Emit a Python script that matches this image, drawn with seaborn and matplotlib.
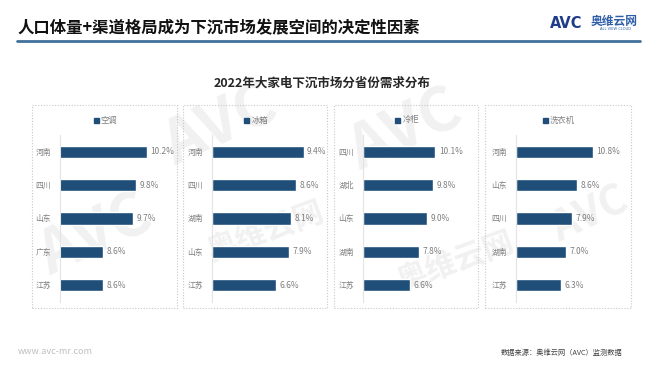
import matplotlib
matplotlib.use("Agg")
import matplotlib.pyplot as plt
import seaborn as sns
import pandas as pd
from matplotlib.patches import Rectangle
from matplotlib.lines import Line2D

sns.set_theme(style="white")
plt.rcParams['font.family'] = ['Noto Sans CJK SC', 'DejaVu Sans']

# ---------------- data ----------------
main_title = "人口体量+渠道格局成为下沉市场发展空间的决定性因素"
chart_title = "2022年大家电下沉市场分省份需求分布"
source_text = "数据来源：奥维云网（AVC）监测数据"
site_text = "www.avc-mr.com"

ac_name = "空调"
ac_provinces = ["河南", "四川", "山东", "广东", "江苏"]
ac_values = [10.2, 9.8, 9.7, 8.6, 8.6]

fridge_name = "冰箱"
fridge_provinces = ["河南", "四川", "湖南", "山东", "江苏"]
fridge_values = [9.4, 8.6, 8.1, 7.9, 6.6]

freezer_name = "冷柜"
freezer_provinces = ["四川", "湖北", "山东", "湖南", "江苏"]
freezer_values = [10.1, 9.8, 9.0, 7.8, 6.6]

washer_name = "洗衣机"
washer_provinces = ["河南", "山东", "四川", "湖南", "江苏"]
washer_values = [10.8, 8.6, 7.9, 7.0, 6.3]

# ---------------- layout ----------------
W, H = 660, 372
BAR = "#1F4E79"
GRAY = "#7F7F7F"

fig = plt.figure(figsize=(W / 100, H / 100), dpi=100)
fig.patch.set_facecolor("white")

def fx(px):
    return px / W

def fy(py):
    return 1 - py / H

# background axis for faint watermarks
bg = fig.add_axes([0, 0, 1, 1], zorder=-5)
bg.set_xlim(0, W)
bg.set_ylim(H, 0)
bg.axis("off")
wm_color = "#F1F1F1"
for (x, y, s, fs, rot) in [(220, 125, "AVC", 44, 25), (405, 130, "AVC", 44, 25),
                           (265, 232, "奥维云网", 22, 20), (455, 262, "奥维云网", 22, 20),
                           (95, 235, "AVC", 44, 25), (590, 215, "AVC", 30, 25)]:
    bg.text(x, y, s, fontsize=fs, fontweight="bold", color=wm_color,
            rotation=rot, ha="center", va="center")

# header
fig.text(fx(18), fy(28), main_title, fontsize=11.8, fontweight="bold",
         color="#111111", ha="left", va="center")
fig.add_artist(Line2D([fx(17), fx(640)], [fy(41), fy(41)], color="#41719C", lw=2))
fig.text(fx(550), fy(23), "AVC", fontsize=10.5, fontweight="bold", color="#1F3C88",
         ha="left", va="center", family=["DejaVu Sans"])
fig.text(fx(591), fy(21.5), "奥维云网", fontsize=8.5, fontweight="bold", color="#2E5EA8",
         ha="left", va="center")
fig.text(fx(616), fy(29.5), "ALL VIEW CLOUD", fontsize=2.6, color="#2E5EA8",
         ha="center", va="center", family=["DejaVu Sans"])

fig.text(fx(322), fy(83), chart_title, fontsize=9, fontweight="bold",
         color="#262626", ha="center", va="center")

# footer
fig.text(fx(18), fy(352), site_text, fontsize=6.5, color="#BFBFBF", ha="left", va="center")
fig.text(fx(622), fy(353), source_text, fontsize=5.2, color="#404040", ha="right", va="center")

panels = [
    (ac_name, ac_provinces, ac_values, (32, 177), 60, 27.1, 7.0),
    (fridge_name, fridge_provinces, fridge_values, (183, 327), 212, 9.75, 0.0),
    (freezer_name, freezer_provinces, freezer_values, (334, 478), 363, 7.16, 0.0),
    (washer_name, washer_provinces, washer_values, (485, 631), 516, 7.1, 0.0),
]

top_px, bot_px = 135, 301.7
for name, provs, vals, (bl, br), left_px, scale, xmin in panels:
    # dotted panel frame
    fig.add_artist(Rectangle((fx(bl), fy(308)), fx(br - bl), (308 - 105) / H,
                             fill=False, ec="#C8C8C8", lw=0.8, ls=(0, (1, 1.5)),
                             transform=fig.transFigure))
    right_px = br - 7
    ax = fig.add_axes([fx(left_px), fy(bot_px), fx(right_px - left_px), (bot_px - top_px) / H],
                      zorder=2)
    ax.set_facecolor("none")
    df = pd.DataFrame({"prov": provs, "val": vals})
    sns.barplot(data=df, x="val", y="prov", color=BAR, width=0.37, orient="h",
                ax=ax, saturation=1)
    ax.set_xlim(xmin, xmin + (right_px - left_px) / scale)
    ax.set_ylim(4.5, -0.5)
    ax.bar_label(ax.containers[0], labels=[f"{v:.1f}%" for v in vals], padding=2.5,
                 fontsize=6, color=GRAY)
    ax.set_xlabel("")
    ax.set_ylabel("")
    ax.set_xticks([])
    ax.tick_params(axis="y", length=0, pad=6.5, labelsize=5.6, labelcolor=GRAY)
    for s in ["top", "right", "bottom"]:
        ax.spines[s].set_visible(False)
    ax.spines["left"].set_color("#E3E3E3")
    ax.spines["left"].set_linewidth(0.8)
    handle = Line2D([], [], marker="s", color=BAR, ls="none", markersize=3.6)
    ax.legend([handle], [name], loc="center",
              bbox_to_anchor=(fx((bl + br) / 2), fy(120)), bbox_transform=fig.transFigure,
              frameon=False, fontsize=6, handletextpad=0.1, labelcolor=GRAY,
              borderpad=0, handlelength=1.0)

fig.savefig("out.png", dpi=100, facecolor="white")
